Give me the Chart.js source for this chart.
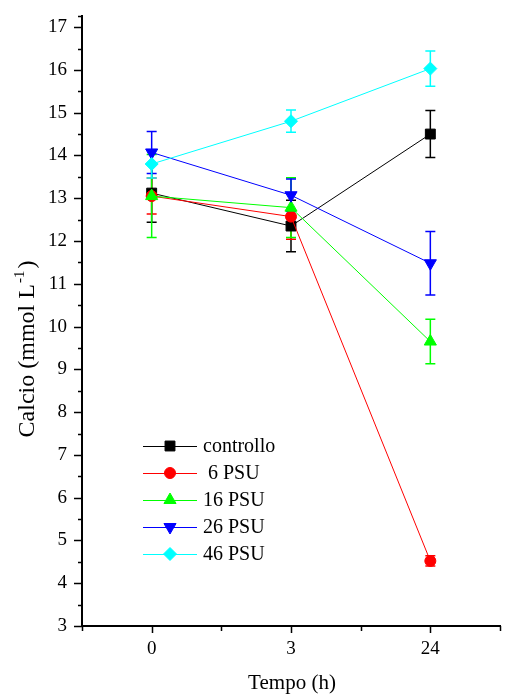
<!DOCTYPE html>
<html>
<head>
<meta charset="utf-8">
<script src="https://cdn.jsdelivr.net/npm/chart.js@4/dist/chart.umd.min.js"></script>
<style>
  html, body { margin: 0; padding: 0; background: #fff; }
</style>
</head>
<body>
<canvas id="chart" width="508" height="697"></canvas>
<script>
/* ── DATA ── */
const tempi = ['0', '3', '24'];
const serie = ['controllo', ' 6 PSU', '16 PSU', '26 PSU', '46 PSU'];
const yTicks = [3, 4, 5, 6, 7, 8, 9, 10, 11, 12, 13, 14, 15, 16, 17];

const controllo = [13.12, 12.35, 14.50];
const psu6      = [13.05, 12.57, 4.52];
const psu16     = [13.05, 12.78, 9.65];
const psu26     = [14.07, 13.07, 11.48];
const psu46     = [13.80, 14.80, 16.03];

const errControllo = [0.68, 0.60, 0.55];
const err6         = [0.42, 0.53, 0.12];
const err16        = [0.97, 0.70, 0.52];
const err26        = [0.49, 0.38, 0.74];
const err46        = [0.33, 0.26, 0.41];

/* ── STYLE ── */
const FONT = '"Liberation Serif", "Times New Roman", serif';
const colori   = ['#000000', '#ff0000', '#00ff00', '#0000ff', '#00ffff'];
const simboli  = ['rect', 'circle', 'triangle', 'triangle', 'rectRot'];
const rotaz    = [0, 0, 0, 180, 0];
const raggi    = [7, 5.5, 7, 7, 6.5];

const valori = [controllo, psu6, psu16, psu26, psu46];
const errori = [errControllo, err6, err16, err26, err46];

const datasets = serie.map((nome, i) => ({
  label: nome,
  data: valori[i],
  borderColor: colori[i],
  backgroundColor: colori[i],
  borderWidth: 1,
  pointStyle: simboli[i],
  pointRotation: rotaz[i],
  pointRadius: raggi[i],
  pointBorderWidth: 1,
  pointBackgroundColor: colori[i],
  pointBorderColor: colori[i],
  tension: 0,
  fill: false,
  order: serie.length - i,
}));

/* ── ERROR BARS ── */
const errorBars = {
  id: 'errorBars',
  beforeDatasetsDraw(chart) {
    const { ctx, scales: { x, y } } = chart;
    valori.forEach((serieVal, i) => {
      ctx.save();
      ctx.strokeStyle = colori[i];
      ctx.lineWidth = 1.5;
      serieVal.forEach((v, j) => {
        const px = x.getPixelForValue(j);
        const top = y.getPixelForValue(v + errori[i][j]);
        const bot = y.getPixelForValue(v - errori[i][j]);
        ctx.beginPath();
        ctx.moveTo(px, top); ctx.lineTo(px, bot);
        ctx.moveTo(px - 5, top); ctx.lineTo(px + 5, top);
        ctx.moveTo(px - 5, bot); ctx.lineTo(px + 5, bot);
        ctx.stroke();
      });
      ctx.restore();
    });
  }
};

/* ── TICK MARKS, TITLES, LEGEND ── */
const decor = {
  id: 'decor',
  afterDraw(chart) {
    const { ctx, chartArea: a, scales: { x, y } } = chart;
    ctx.save();
    ctx.strokeStyle = '#000';
    ctx.lineWidth = 1.5;
    ctx.beginPath();
    // y ticks, outward
    for (let v = 3; v <= 17.001; v += 0.5) {
      const py = Math.round(y.getPixelForValue(v)) + 0.5;
      const len = Number.isInteger(v) ? 8 : 4;
      ctx.moveTo(a.left - len, py); ctx.lineTo(a.left, py);
    }
    ctx.moveTo(a.left - 4, a.top + 0.5); ctx.lineTo(a.left, a.top + 0.5);
    // x ticks, outward
    for (let k = -0.5; k <= 2.501; k += 0.5) {
      const px = Math.round(x.getPixelForValue(k)) + 0.5;
      const len = Number.isInteger(k) ? 7 : 5;
      ctx.moveTo(px, a.bottom); ctx.lineTo(px, a.bottom + len);
    }
    ctx.stroke();

    // axis titles
    ctx.fillStyle = '#000';
    ctx.font = '21px ' + FONT;
    ctx.textAlign = 'center';
    ctx.textBaseline = 'middle';
    ctx.fillText('Tempo (h)', (a.left + a.right) / 2 + 1, 683);

    ctx.save();
    ctx.translate(28, 349);
    ctx.rotate(-Math.PI / 2);
    const big = '24px ' + FONT, small = '15px ' + FONT;
    const p1 = 'Calcio (mmol L', p2 = '-1', p3 = ')';
    ctx.font = big;  const w1 = ctx.measureText(p1).width, w3 = ctx.measureText(p3).width;
    ctx.font = small; const w2 = ctx.measureText(p2).width;
    let cx = -(w1 + w2 + w3 + 3) / 2;
    ctx.textAlign = 'left';
    ctx.font = big;   ctx.fillText(p1, cx, 0); cx += w1 + 1;
    ctx.font = small; ctx.fillText(p2, cx, -8); cx += w2 + 2;
    ctx.font = big;   ctx.fillText(p3, cx, 0);
    ctx.restore();

    // legend
    const righe = [446, 473, 500, 527, 554];
    serie.forEach((nome, i) => {
      const ly = righe[i];
      ctx.strokeStyle = colori[i];
      ctx.lineWidth = 1;
      ctx.beginPath();
      ctx.moveTo(143, ly + 0.5); ctx.lineTo(197, ly + 0.5);
      ctx.stroke();
      ctx.fillStyle = colori[i];
      Chart.helpers.drawPoint(ctx, {
        pointStyle: simboli[i], rotation: rotaz[i], radius: raggi[i], borderWidth: 1
      }, 170, ly);
      ctx.fillStyle = '#000';
      ctx.font = '20px ' + FONT;
      ctx.textAlign = 'left';
      ctx.fillText(nome, 203, ly + 1);
    });
    ctx.restore();
  }
};

new Chart(document.getElementById('chart'), {
  type: 'line',
  data: { labels: tempi, datasets },
  plugins: [errorBars, decor],
  options: {
    responsive: false,
    animation: false,
    devicePixelRatio: 1,
    layout: { padding: { left: 0, right: 6, top: 16, bottom: 0 } },
    plugins: { legend: { display: false }, tooltip: { enabled: false } },
    scales: {
      x: {
        type: 'category',
        offset: true,
        grid: { display: false, drawTicks: false },
        border: { display: true, color: '#000', width: 2 },
        ticks: { color: '#000', font: { family: FONT, size: 19 }, padding: 12 },
        afterFit: s => { s.height = 71; s.paddingLeft = 0; s.paddingRight = 0; },
      },
      y: {
        min: 3, max: 17.26,
        grid: { display: false, drawTicks: false },
        border: { display: true, color: '#000', width: 2 },
        ticks: { color: '#000', font: { family: FONT, size: 19 }, padding: 15 },
        afterBuildTicks: s => { s.ticks = yTicks.map(v => ({ value: v })); },
        afterFit: s => { s.width = 82; s.paddingTop = 0; s.paddingBottom = 0; },
      }
    }
  }
});
</script>
</body>
</html>
